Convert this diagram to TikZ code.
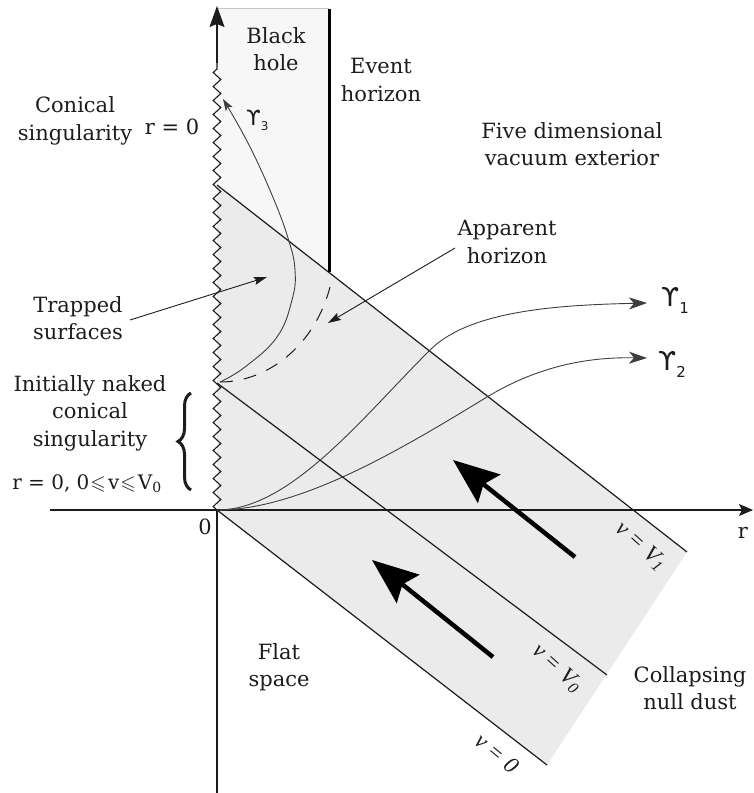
\documentclass[tikz,border=0pt]{standalone}
\usepackage{fontspec}
\usepackage{amssymb}
\setmainfont{DejaVu Serif}
\newfontfamily\gamfont{DejaVu Sans}
\newfontfamily\vfont{Liberation Serif}
\usetikzlibrary{arrows.meta,decorations.pathmorphing,decorations.pathreplacing}
\definecolor{ink}{HTML}{1C1C1C}
\definecolor{dust}{HTML}{EBEBEB}
\definecolor{bhfill}{HTML}{F7F7F7}
\begin{document}
\begin{tikzpicture}[x=1pt,y=-1pt,
  lbl/.style={text=ink, align=center, font=\fontsize{21}{27.5}\selectfont, inner sep=0pt},
  nullline/.style={draw=ink, line width=1.2pt},
  curveline/.style={draw=ink!85, line width=0.9pt},
  bigarrow/.style={draw=black, line width=4.5pt, -{Stealth[length=46pt,width=36pt,inset=7pt]}},
  ptr/.style={draw=ink, line width=0.9pt, -{Stealth[length=13pt,width=8pt,inset=2pt]}},
  gamarrow/.style={curveline, -{Stealth[length=18pt,width=12pt,inset=5pt]}},
  vlab/.style={text=ink, font=\vfont\itshape\fontsize{23}{23}\selectfont, inner sep=0pt},
  gam/.style={text=ink, inner sep=0pt},
]
\useasboundingbox (0,0) rectangle (753,793);

% key coordinates
\coordinate (O) at (217,510);
\coordinate (S1) at (217,185);
\coordinate (E1) at (687,552);
\coordinate (S0) at (217,383);
\coordinate (M0) at (607,675);
\coordinate (E0) at (547,765);
\coordinate (EHtop) at (329,9);
\coordinate (EHbot) at (329,272);
\coordinate (BHtl) at (217,8);
\coordinate (BHtr) at (329,8);

% regions
\fill[bhfill] (BHtl) -- (BHtr) -- (EHbot) -- (S1) -- cycle;
\draw[gray!45, line width=0.8pt] (BHtl) -- (BHtr);
\fill[dust] (O) -- (E0) -- (E1) -- (S1) -- cycle;

% null lines
\draw[nullline] (S1) -- (E1);
\draw[nullline] (S0) -- (M0);
\draw[nullline] (O) -- (E0);

% event horizon
\draw[black, line width=3pt] (EHtop) -- (EHbot);

% axes
\coordinate (xl) at (50,510);
\coordinate (xr) at (753,510);
\draw[ink, line width=1.1pt, -{Stealth[length=14pt,width=12pt,inset=3pt]}] (xl) -- (xr);
\coordinate (yb) at (217,793);
\coordinate (zz) at (217,63);
\coordinate (yt) at (217,6);
\draw[ink, line width=1.1pt] (yb) -- (O);
\draw[ink, line width=1.1pt, decorate, decoration={zigzag, segment length=14pt, amplitude=3.8pt}] (O) -- (zz);
\draw[ink, line width=1.1pt, -{Stealth[length=21pt,width=15pt,inset=3pt]}] (zz) -- (yt);

% apparent horizon (dashed)
\coordinate (AHs) at (220,382);
\coordinate (AHe) at (330,287);
\draw[ink, line width=1pt, dash pattern=on 13pt off 11pt] (AHs) .. controls (268,382) and (315,345) .. (AHe);

% gamma curves
\coordinate (g1e) at (647,303);
\coordinate (g1m) at (430,350);
\coordinate (g2e) at (647,358);
\coordinate (g2m) at (487,397);
\draw[gamarrow] (O) .. controls (290,510) and (360,420) .. (g1m) .. controls (470,310) and (560,305) .. (g1e);
\draw[gamarrow] (O) .. controls (300,510) and (400,450) .. (g2m) .. controls (540,365) and (590,357) .. (g2e);
\draw[curveline, -{Stealth[length=12pt,width=8pt,inset=3pt]}] plot[smooth, tension=0.7] coordinates {(220,382) (245,367) (277,337) (292,300) (295,270) (288,238) (272,195) (248,143) (223,99)};

% big arrows
\coordinate (a1s) at (575,557);
\coordinate (a1e) at (453,460);
\coordinate (a2s) at (493,657);
\coordinate (a2e) at (372,560);
\draw[bigarrow] (a1s) -- (a1e);
\draw[bigarrow] (a2s) -- (a2e);

% brace
\coordinate (brb) at (191,490);
\coordinate (brt) at (191,393);
\draw[ink, line width=3pt, decorate, decoration={brace, amplitude=13pt}] (brb) -- (brt);

% labels
\node[lbl] (bh) at (276,49) {Black\\hole};
\node[lbl] (eh) at (381,80) {Event\\horizon};
\node[lbl] (cs) at (75,121) {Conical\\singularity};
\node[lbl] (r0) at (172,127) {r = 0};
\node[lbl] (five) at (572,144) {Five dimensional\\vacuum exterior};
\node[lbl] (ah) at (507,242) {Apparent\\horizon};
\node[lbl] (ts) at (78,318) {Trapped\\surfaces};
\node[lbl] (inc) at (90,413) {Initially naked\\conical\\singularity};
\node[lbl, font=\fontsize{20}{24}\selectfont] (rv) at (87,484) {r = 0, 0\kern1pt$\leqslant$\kern2pt v\kern1pt$\leqslant$\kern2pt V\textsubscript{0}};
\node[lbl] (zero) at (205,527) {0};
\node[lbl] (rlab) at (743,533) {r};
\node[lbl] (flat) at (279,667) {Flat\\space};
\node[lbl] (coll) at (690,688) {Collapsing\\null dust};

% pointers
\coordinate (tsp) at (130,320);
\coordinate (tst) at (267,277);
\draw[ptr] (tsp) -- (tst);
\coordinate (ahp) at (455,248);
\coordinate (aht) at (328,323);
\draw[ptr] (ahp) -- (aht);

% gamma labels
\node[gam, anchor=west] (G1) at (661,300) {\gamfont\fontsize{26}{26}\selectfont ϒ\raisebox{-7pt}{\fontsize{15}{15}\selectfont 1}};
\node[gam, anchor=west] (G2) at (658,364) {\gamfont\fontsize{26}{26}\selectfont ϒ\raisebox{-7pt}{\fontsize{15}{15}\selectfont 2}};
\node[gam, anchor=west] (G3) at (246,120) {\gamfont\fontsize{21}{21}\selectfont ϒ\raisebox{-5pt}{\fontsize{12}{12}\selectfont 3}};

% v labels
\node[vlab, rotate=-42] (v1) at (641,546) {v = V\textsubscript{1}};
\node[vlab, rotate=-42] (v0) at (557,668) {v = V\textsubscript{0}};
\node[vlab, rotate=-40] (vz) at (497,753) {v = 0};
\end{tikzpicture}
\end{document}
